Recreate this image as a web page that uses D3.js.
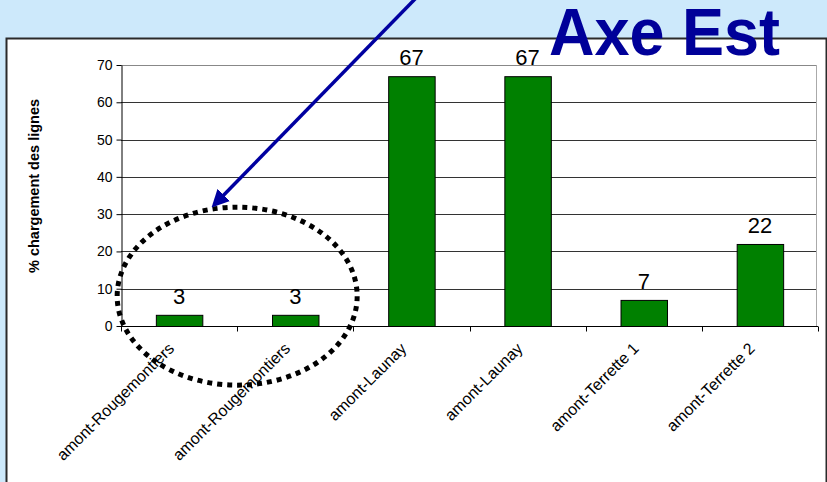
<!DOCTYPE html>
<html>
<head>
<meta charset="utf-8">
<script src="https://cdn.jsdelivr.net/npm/d3@7"></script>
<style>
  body { margin: 0; background: #cde9fb; }
  svg { display: block; }
  text { font-family: Arial, "Liberation Sans", sans-serif; }
</style>
</head>
<body>
<svg id="chart" width="827" height="482"></svg>
<script>

var categories = ["amont-Rougemontiers", "amont-Rougemontiers", "amont-Launay", "amont-Launay", "amont-Terrette 1", "amont-Terrette 2"];
var values = [3, 3, 67, 67, 7, 22];
var yTicks = [0, 10, 20, 30, 40, 50, 60, 70];
var title = "Axe Est";
var yTitle = "% chargement des lignes";

var width = 827
  , height = 482
  , plot = {left: 121, right: 818, top: 65, bottom: 326}

var svg = d3.select("#chart");

svg.append("rect")
    .attr("width", width)
    .attr("height", height)
    .style("fill", "#cde9fb");

// white chart box
svg.append("rect")
    .attr("x", 6.5)
    .attr("y", 38.5)
    .attr("width", 820)
    .attr("height", 470)
    .style("fill", "#fff")
    .style("stroke", "#2a2a2a")
    .style("stroke-width", 2);

var x = d3.scaleBand()
    .domain(d3.range(categories.length))
    .range([plot.left, plot.right])
    .paddingInner(0.6)
    .paddingOuter(0.3);

var y = d3.scaleLinear()
    .domain([0, 70])
    .range([plot.bottom, plot.top]);

// gridlines
svg.append("g")
    .selectAll("line")
    .data(yTicks.slice(1))
  .enter().append("line")
    .attr("x1", plot.left)
    .attr("x2", plot.right - 2)
    .attr("y1", function(d) { return Math.round(y(d)) + 0.5; })
    .attr("y2", function(d) { return Math.round(y(d)) + 0.5; })
    .style("stroke", function(d) { return d == 70 ? "#888" : "#333"; })
    .style("stroke-width", 1);

// plot area right edge
svg.append("line")
    .attr("x1", plot.right - 1.5)
    .attr("x2", plot.right - 1.5)
    .attr("y1", y(70))
    .attr("y2", y(0))
    .style("stroke", "#aaa");

// bars
svg.append("g")
    .selectAll("rect")
    .data(values)
  .enter().append("rect")
    .attr("x", function(d, i) { return x(i) + 0.5; })
    .attr("y", function(d) { return y(d) + 0.5; })
    .attr("width", x.bandwidth())
    .attr("height", function(d) { return y(0) - y(d); })
    .style("fill", "#008000")
    .style("stroke", "#000")
    .style("stroke-width", 1);

// value labels
svg.append("g")
    .selectAll("text")
    .data(values)
  .enter().append("text")
    .attr("x", function(d, i) { return x(i) + x.bandwidth() / 2; })
    .attr("y", function(d) { return y(d) - 11; })
    .attr("text-anchor", "middle")
    .style("font-size", "22px")
    .style("fill", "#000")
    .text(function(d) { return d; });

// y axis
var yAxis = svg.append("g")
    .attr("transform", "translate(" + (plot.left + 0.5) + ",0)")
    .call(d3.axisLeft(y).tickValues(yTicks).tickSize(5).tickSizeOuter(0).tickPadding(4));

yAxis.select(".domain").style("stroke", "#000");
yAxis.selectAll("text")
    .style("font-size", "14px")
    .style("font-family", "Arial, 'Liberation Sans', sans-serif")
    .style("fill", "#000");

// x axis, ticks at category boundaries
var xAxis = svg.append("g")
    .attr("transform", "translate(0," + (plot.bottom + 0.5) + ")");

xAxis.append("line")
    .attr("x1", plot.left)
    .attr("x2", plot.right)
    .style("stroke", "#000");

xAxis.selectAll(".tick")
    .data(d3.range(categories.length + 1))
  .enter().append("line")
    .attr("class", "tick")
    .attr("x1", function(d) { return Math.round(plot.left + d * x.step()) + 0.5; })
    .attr("x2", function(d) { return Math.round(plot.left + d * x.step()) + 0.5; })
    .attr("y1", 0)
    .attr("y2", 5)
    .style("stroke", "#000");

xAxis.selectAll(".label")
    .data(categories)
  .enter().append("text")
    .attr("class", "label")
    .attr("transform", function(d, i) {
      return "translate(" + (x(i) + x.bandwidth() / 2 - 4) + ",23) rotate(-45)";
    })
    .attr("text-anchor", "end")
    .style("font-size", "16px")
    .style("fill", "#000")
    .text(function(d) { return d; });

// y title
svg.append("text")
    .attr("transform", "translate(39,186) rotate(-90)")
    .attr("text-anchor", "middle")
    .style("font-size", "14.5px")
    .style("font-weight", "bold")
    .style("fill", "#000")
    .text(yTitle);

// dotted ellipse around the first two bars
svg.append("ellipse")
    .attr("cx", (x(0) + x(1) + x.bandwidth()) / 2)
    .attr("cy", y(8))
    .attr("rx", 120)
    .attr("ry", 89)
    .style("fill", "none")
    .style("stroke", "#000")
    .style("stroke-width", 5)
    .style("stroke-dasharray", "5,5");

// arrow
svg.append("defs").append("marker")
    .attr("id", "head")
    .attr("viewBox", "0 0 10 10")
    .attr("refX", 8)
    .attr("refY", 5)
    .attr("markerWidth", 5)
    .attr("markerHeight", 5)
    .attr("orient", "auto")
  .append("path")
    .attr("d", "M0,0L10,5L0,10z")
    .style("fill", "#0000a0");

svg.append("line")
    .attr("x1", 416)
    .attr("y1", -2)
    .attr("x2", 214)
    .attr("y2", 205)
    .attr("marker-end", "url(#head)")
    .style("stroke", "#0000a0")
    .style("stroke-width", 3.5);

// title, a bit taller than plain Arial bold
svg.append("text")
    .attr("transform", "translate(549,55) scale(1,1.06)")
    .style("font-size", "63px")
    .style("font-weight", "bold")
    .style("fill", "#000099")
    .text(title);

</script>
</body>
</html>
